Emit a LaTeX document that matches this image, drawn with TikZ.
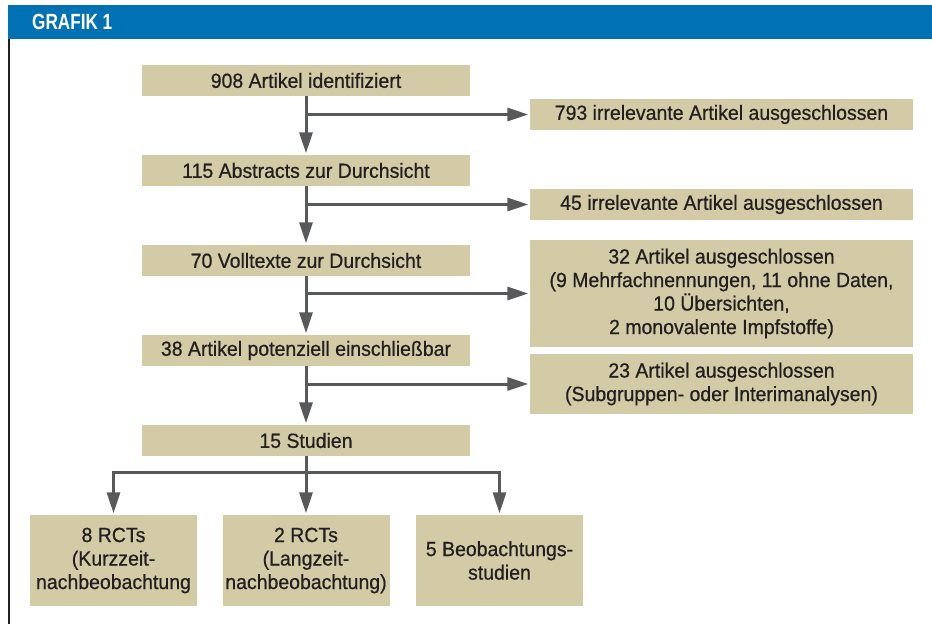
\documentclass[tikz,border=0pt]{standalone}
\usepackage{fontspec}
\setmainfont{Liberation Sans}[FakeStretch=0.95,FakeBold=0.6]
\newfontfamily\headfont{Liberation Sans Bold}[FakeStretch=0.78]
\usetikzlibrary{arrows.meta}
\definecolor{grafblue}{RGB}{0,113,179}
\definecolor{boxtan}{RGB}{211,202,166}
\definecolor{flowgray}{RGB}{88,89,91}
\definecolor{inkdark}{RGB}{35,31,32}

\begin{document}
\begin{tikzpicture}[x=1pt,y=-1pt,line join=miter,
  box/.style={fill=boxtan,text=inkdark,inner sep=0pt,align=center,font=\fontsize{20.5}{23.5}\selectfont},
  leftbox/.style={box,minimum width=328pt,minimum height=31pt},
  rightbox/.style={box,minimum width=383pt},
  endbox/.style={box,minimum width=167pt,minimum height=91pt},
  link/.style={draw=flowgray,line width=3pt},
  flow/.style={link,-{Triangle[length=21pt,width=13pt]},shorten >=1.5pt}]
\useasboundingbox (0,0) rectangle (932,624);
% header bar and frame
\fill[grafblue] (8,5) rectangle (932,39);
\node[font=\headfont\fontsize{22}{24}\selectfont,text=white,anchor=west,inner sep=0pt] (title) at (32,22) {GRAFIK 1};
\draw[inkdark,line width=2pt] (9,39) -- (9,624);
% main column
\node[leftbox] (found) at (306,80.5) {908 Artikel identifiziert};
\node[leftbox] (abstracts) at (306,170.5) {115 Abstracts zur Durchsicht};
\node[leftbox] (fulltexts) at (306,260.5) {70 Volltexte zur Durchsicht};
\node[leftbox] (eligible) at (306,350.5) {38 Artikel potenziell einschließbar};
\node[leftbox] (studies) at (306,440.5) {15 Studien};
% excluded
\node[rightbox,minimum height=31pt] (drop1) at (721.5,114.5) {793 irrelevante Artikel ausgeschlossen};
\node[rightbox,minimum height=31pt] (drop2) at (721.5,204.5) {45 irrelevante Artikel ausgeschlossen};
\node[rightbox,minimum height=107pt] (drop3) at (721.5,293.5) {32 Artikel ausgeschlossen\\(9 Mehrfachnennungen, 11 ohne Daten,\\10 Übersichten,\\2 monovalente Impfstoffe)};
\node[rightbox,minimum height=60pt] (drop4) at (721.5,384) {23 Artikel ausgeschlossen\\(Subgruppen- oder Interimanalysen)};
% study types
\node[endbox] (rctshort) at (113.5,560.5) {8 RCTs\\(Kurzzeit-\\nachbeobachtung};
\node[endbox] (rctlong) at (306,560.5) {2 RCTs\\(Langzeit-\\nachbeobachtung)};
\node[endbox] (observ) at (499.5,560.5) {5 Beobachtungs-\\studien};
% connectors
\draw[flow] (found.south) -- (abstracts.north);
\draw[flow] (abstracts.south) -- (fulltexts.north);
\draw[flow] (fulltexts.south) -- (eligible.north);
\draw[flow] (eligible.south) -- (studies.north);
\draw[flow] (found.south |- drop1.west) -- (drop1.west);
\draw[flow] (abstracts.south |- drop2.west) -- (drop2.west);
\draw[flow] (fulltexts.south |- drop3.west) -- (drop3.west);
\draw[flow] (eligible.south |- drop4.west) -- (drop4.west);
\coordinate (split) at (306,472);
\draw[link] (studies.south) -- (split);
\draw[flow] (split) -| (rctshort.north);
\draw[flow] (split) -- (rctlong.north);
\draw[flow] (split) -| (observ.north);
\end{tikzpicture}
\end{document}
